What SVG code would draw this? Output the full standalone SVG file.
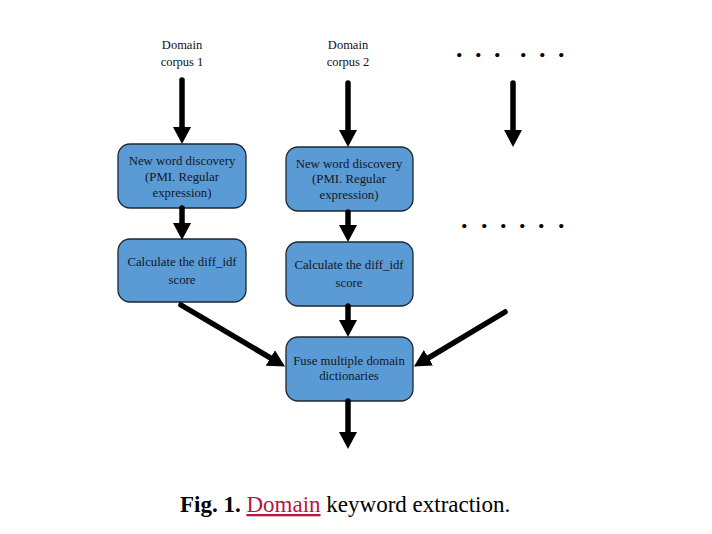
<svg xmlns="http://www.w3.org/2000/svg" width="712" height="534" viewBox="0 0 712 534">
<style>
.box{fill:#5b9bd5;stroke:#1c2733;stroke-width:1.3}
.t{font-family:"Liberation Serif",serif;font-size:12.8px;fill:#111827;text-anchor:middle}
.lbl{font-family:"Liberation Serif",serif;font-size:12.5px;fill:#111111;text-anchor:middle}
.a{stroke:#000;stroke-width:5.5;stroke-linecap:round;fill:none;marker-end:url(#ah)}
.dots{font-family:"Liberation Serif",serif;font-size:26px;font-weight:bold;fill:#000}
.cap{font-family:"Liberation Serif",serif;font-size:23px;fill:#000}
</style>
<defs>
<marker id="ah" markerUnits="userSpaceOnUse" markerWidth="18" markerHeight="18" refX="0" refY="9" orient="auto">
<path d="M0,0 L17,9 L0,18 Z" fill="#000"/>
</marker>
</defs>
<rect width="712" height="534" fill="#fff"/>
<g id="label-corpus1"><text class="lbl" x="182" y="49">Domain</text><text class="lbl" x="182" y="66">corpus 1</text></g>
<g id="label-corpus2"><text class="lbl" x="348" y="49">Domain</text><text class="lbl" x="348" y="66">corpus 2</text></g>
<g id="dots-top"><text class="dots" x="456 475 494 520 539 558" y="57">......</text></g>
<g id="dots-mid"><text class="dots" x="461 481 500 519 538 558" y="228">......</text></g>
<g id="node-nwd1"><rect class="box" x="118" y="144" width="128" height="64" rx="12"/>
<text class="t" x="182" y="165">New word discovery</text><text class="t" x="182" y="181">(PMI. Regular</text><text class="t" x="182" y="197">expression)</text></g>
<g id="node-nwd2"><rect class="box" x="286" y="147" width="127" height="64" rx="12"/>
<text class="t" x="349" y="168">New word discovery</text><text class="t" x="349" y="183">(PMI. Regular</text><text class="t" x="349" y="199">expression)</text></g>
<g id="node-calc1"><rect class="box" x="118" y="239" width="128" height="63" rx="12"/>
<text class="t" x="182" y="266">Calculate the diff_idf</text><text class="t" x="182" y="284">score</text></g>
<g id="node-calc2"><rect class="box" x="286" y="242" width="127" height="64" rx="12"/>
<text class="t" x="349" y="269">Calculate the diff_idf</text><text class="t" x="349" y="287">score</text></g>
<g id="node-fuse"><rect class="box" x="286" y="337" width="127" height="64" rx="12"/>
<text class="t" x="349" y="365">Fuse multiple domain</text><text class="t" x="349" y="380">dictionaries</text></g>
<g id="connectors">
<line class="a" x1="182" y1="80" x2="182" y2="127"/>
<line class="a" x1="348" y1="83" x2="348" y2="130"/>
<line class="a" x1="513" y1="83" x2="513" y2="130"/>
<line class="a" x1="182" y1="208" x2="182" y2="223"/>
<line class="a" x1="348" y1="212" x2="348" y2="225"/>
<line class="a" x1="348" y1="306" x2="348" y2="320"/>
<line class="a" x1="181" y1="305" x2="270.4" y2="357.9"/>
<line class="a" x1="505" y1="312" x2="428.5" y2="357.8"/>
<line class="a" x1="348" y1="401" x2="348" y2="432"/>
</g>
<g id="caption">
<text class="cap" x="180" y="512"><tspan font-weight="bold">Fig. 1.</tspan> <tspan fill="#b5173f" text-decoration="underline">Domain</tspan> keyword extraction.</text>
</g>
</svg>
